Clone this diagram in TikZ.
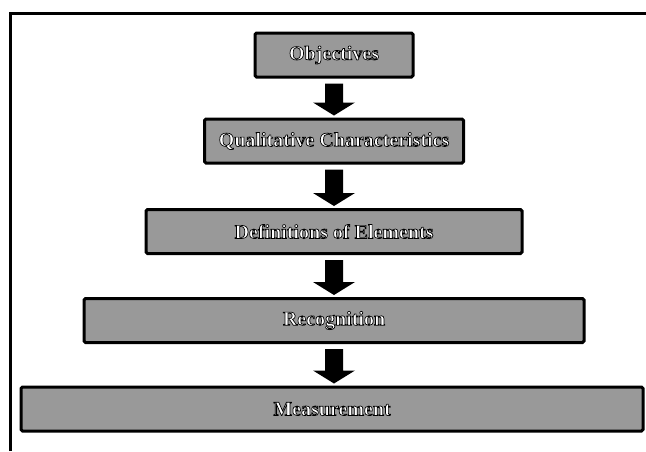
\documentclass[tikz,border=0pt]{standalone}
\usepackage{fontspec}
\setmainfont{Liberation Serif}
\usetikzlibrary{calc}
% white letters with a thin black outline (text render mode 2: fill, then stroke)
\newcommand\lbl[1]{\textcolor{white}{\special{pdf:literal direct 2 Tr 0.7 w 0 0 0 RG}#1\special{pdf:literal direct 0 Tr}}}
\begin{document}
\begin{tikzpicture}[x=1pt,y=-1pt,
  stage/.style={draw=black,line width=3pt,rounded corners=1.5pt,fill=black!40,
    minimum height=44pt,inner sep=0pt,
    font=\fontsize{20}{23}\selectfont\bfseries},
  blockarrow/.style={fill=black}]
\useasboundingbox (0,0) rectangle (646,451);
% open frame: top and left sides only
\coordinate (fb) at (10,451);
\coordinate (fc) at (10,13);
\coordinate (fr) at (646,13);
\draw[line width=3pt] (fb) -- (fc) -- (fr);
% stages
\node[stage,minimum width=158pt] (o) at (334,55)    {\lbl{Objectives}};
\node[stage,minimum width=259pt] (q) at (334,141)   {\lbl{Qualitative Characteristics}};
\node[stage,minimum width=376pt] (d) at (334,231.5) {\lbl{Definitions of Elements}};
\node[stage,minimum width=500pt] (r) at (334,320.5) {\lbl{Recognition}};
\node[stage,minimum width=622pt] (m) at (332,409)   {\lbl{Measurement}};
% block arrows between consecutive stages
\foreach \a/\b in {o/q,q/d,d/r,r/m}{
  \fill[blockarrow]
    ($(\a.south)+(-9,5)$) -- ($(\a.south)+(9,5)$)
    -- ($(\a.south |- \b.north)+(9,-15)$) -- ($(\a.south |- \b.north)+(21,-15)$)
    -- ($(\a.south |- \b.north)+(0,-2)$)
    -- ($(\a.south |- \b.north)+(-21,-15)$) -- ($(\a.south |- \b.north)+(-9,-15)$)
    -- cycle;
}
\end{tikzpicture}
\end{document}
